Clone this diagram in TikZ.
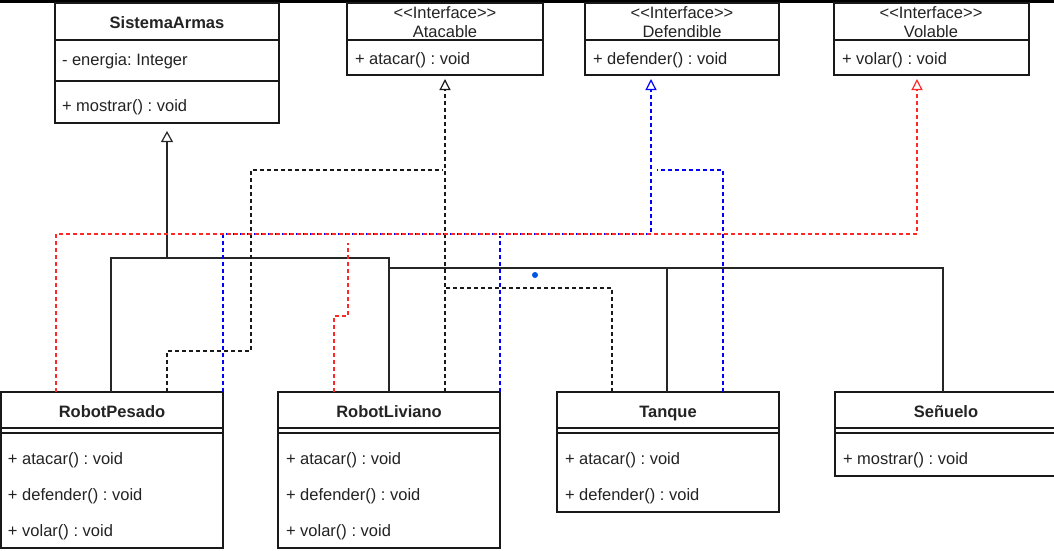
\documentclass[tikz,border=0pt]{standalone}
\usepackage{fontspec}
\setmainfont{Liberation Sans}
\usetikzlibrary{arrows.meta}
\definecolor{txt}{RGB}{35,35,35}
\definecolor{ublue}{RGB}{0,0,255}
\definecolor{ured}{RGB}{255,40,40}
\definecolor{dotblue}{RGB}{0,85,230}
\frenchspacing
\begin{document}
\begin{tikzpicture}[x=1pt,y=-1pt,
  every node/.style={font=\fontsize{16.5}{19}\selectfont\frenchspacing, text=txt, inner sep=0pt, outer sep=0pt},
  box/.style={draw=black!90, line width=1.2pt, anchor=north west, fill=white},
  lbl/.style={anchor=base west},
  ctr/.style={anchor=base},
  ttl/.style={anchor=base, font=\fontsize{16.5}{19}\selectfont\bfseries},
  sep/.style={draw=black!90, line width=1.2pt},
  gen/.style={draw=black!85, line width=1.2pt},
  genarr/.style={gen, -{Triangle[open,length=11pt,width=12pt,line width=1.2pt]}, shorten >=8pt},
  dk/.style={draw=black!90, line width=1.1pt, dash pattern=on 4pt off 3pt},
  db/.style={dk, draw=ublue},
  dr/.style={dk, draw=ured},
  tip/.style={-{Triangle[open,length=11pt,width=11pt,line width=1.2pt]}, shorten >=4pt},
]
\useasboundingbox (0,0) rectangle (1054,550);
\fill[black] (0,0) rectangle (1054,3);

% ---- SistemaArmas
\node[box, minimum width=224pt, minimum height=120pt] (sa) at (55,3) {};
\draw[sep] (sa.west |- 0,40) -- (sa.east |- 0,40);
\draw[sep] (sa.west |- 0,81) -- (sa.east |- 0,81);
\node[ttl] (sat) at (167,28) {SistemaArmas};
\node[lbl] (saa) at (62,65) {- energia: Integer};
\node[lbl] (sam) at (62,111) {+ mostrar() : void};

% ---- Interfaces
\node[box, minimum width=196pt, minimum height=72pt] (at) at (347,3) {};
\draw[sep] (at.west |- 0,40) -- (at.east |- 0,40);
\node[ctr] (ats) at (445,18) {<\kern0pt<Interface>\kern0pt>};
\node[ctr] (atn) at (445,37) {Atacable};
\node[lbl] (atm) at (355,64) {+ atacar() : void};

\node[box, minimum width=194pt, minimum height=72pt] (de) at (585,3) {};
\draw[sep] (de.west |- 0,40) -- (de.east |- 0,40);
\node[ctr] (des) at (682,18) {<\kern0pt<Interface>\kern0pt>};
\node[ctr] (den) at (682,37) {Defendible};
\node[lbl] (dem) at (593,64) {+ defender() : void};

\node[box, minimum width=195pt, minimum height=72pt] (vo) at (834,3) {};
\draw[sep] (vo.west |- 0,40) -- (vo.east |- 0,40);
\node[ctr] (vos) at (931,18) {<\kern0pt<Interface>\kern0pt>};
\node[ctr] (von) at (931,37) {Volable};
\node[lbl] (vom) at (842,64) {+ volar() : void};

% ---- RobotPesado
\node[box, minimum width=222pt, minimum height=156pt] (rp) at (1,392) {};
\draw[sep] (rp.west |- 0,428) -- (rp.east |- 0,428);
\draw[sep] (rp.west |- 0,433) -- (rp.east |- 0,433);
\node[ttl] (rpt) at (112,417) {RobotPesado};
\node[lbl] (rp1) at (8,464) {+ atacar() : void};
\node[lbl] (rp2) at (8,500) {+ defender() : void};
\node[lbl] (rp3) at (8,536) {+ volar() : void};

% ---- RobotLiviano
\node[box, minimum width=222pt, minimum height=156pt] (rl) at (278,392) {};
\draw[sep] (rl.west |- 0,428) -- (rl.east |- 0,428);
\draw[sep] (rl.west |- 0,433) -- (rl.east |- 0,433);
\node[ttl] (rlt) at (389,417) {RobotLiviano};
\node[lbl] (rl1) at (286,464) {+ atacar() : void};
\node[lbl] (rl2) at (286,500) {+ defender() : void};
\node[lbl] (rl3) at (286,536) {+ volar() : void};

% ---- Tanque
\node[box, minimum width=222pt, minimum height=120pt] (ta) at (557,392) {};
\draw[sep] (ta.west |- 0,428) -- (ta.east |- 0,428);
\draw[sep] (ta.west |- 0,433) -- (ta.east |- 0,433);
\node[ttl] (tat) at (668,417) {Tanque};
\node[lbl] (ta1) at (565,464) {+ atacar() : void};
\node[lbl] (ta2) at (565,500) {+ defender() : void};

% ---- Senuelo
\node[box, minimum width=223pt, minimum height=84pt] (se) at (835,392) {};
\draw[sep] (se.west |- 0,428) -- (se.east |- 0,428);
\draw[sep] (se.west |- 0,433) -- (se.east |- 0,433);
\node[ttl] (set) at (946,417) {Señuelo};
\node[lbl] (se1) at (843,464) {+ mostrar() : void};

% ---- generalization (solid)
\draw[gen] (rp.north -| 111,0) -- (111,258) -- (389,258) -- (rl.north -| 389,0);
\draw[genarr] (167,258) -- (sa.south);
\draw[gen] (389,268) -- (943,268) -- (se.north -| 943,0);
\draw[gen] (667,268) -- (ta.north -| 667,0);

% ---- realization Defendible (blue dashed)
\draw[db, tip] (rp.north -| 223,0) -- (223,234) -- (651,234) -- (de.south -| 651,0);
\draw[db] (rl.north -| 500,0) -- (500,236);
\draw[db] (ta.north -| 723,0) -- (723,170) -- (657,170);

% ---- realization Atacable (black dashed)
\draw[dk, tip] (rl.north -| 445,0) -- (at.south);
\draw[dk] (rp.north -| 167,0) -- (167,351) -- (251,351) -- (251,170) -- (443,170);
\draw[dk] (ta.north -| 612,0) -- (612,288) -- (446,288);

% ---- realization Volable (red dashed)
\draw[dr, tip] (rp.north -| 56,0) -- (56,234) -- (917,234) -- (vo.south -| 917,0);
\draw[dr] (rl.north -| 334,0) -- (334,316) -- (348,316) -- (348,243);

% ---- stray connection point
\node[circle, fill=dotblue, minimum size=6pt] (dot) at (535,275) {};
\end{tikzpicture}
\end{document}
